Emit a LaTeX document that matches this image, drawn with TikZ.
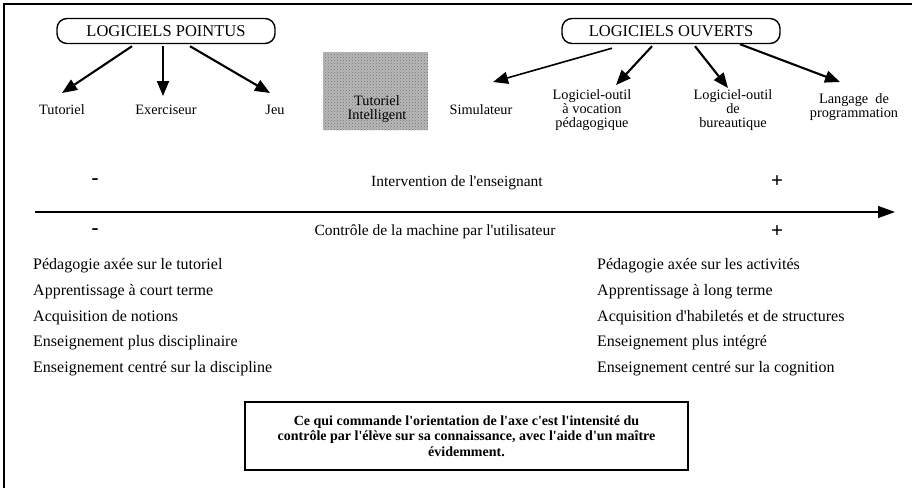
\documentclass[tikz,border=0pt]{standalone}
\usepackage{fontspec}
\setmainfont{Liberation Serif}
\usetikzlibrary{arrows.meta,calc,patterns}
\newcommand{\apos}{\textquotesingle}
\begin{document}
\begin{tikzpicture}[x=1pt,y=-1pt,
  cat/.style={draw,line width=1.4pt,rounded corners=10pt,minimum width=218pt,minimum height=25pt,inner sep=0pt,font=\fontsize{16.5}{16.5}\selectfont},
  lab/.style={font=\fontsize{14.3}{14}\selectfont,align=center,inner sep=0pt},
  txt/.style={font=\fontsize{16}{16}\selectfont,inner sep=0pt,anchor=west},
  mid/.style={font=\fontsize{15.5}{16}\selectfont,inner sep=0pt},
  sign/.style={font=\bfseries\fontsize{21}{21}\selectfont,inner sep=0pt},
  arr/.style={line width=2.1pt,-{Triangle[length=15pt,width=12pt]}},
  notebox/.style={draw,line width=1.5pt,minimum width=443pt,minimum height=68pt,inner sep=0pt,align=center,font=\bfseries\fontsize{14}{15.5}\selectfont},
  gray box/.style={preaction={fill=black!28},pattern=crosshatch dots,pattern color=black!55,minimum width=105pt,minimum height=78pt,inner sep=0pt}
]
\useasboundingbox (0,0) rectangle (912,488);
\fill[white] (0,0) rectangle (912,488);
\draw[line width=2.5pt] (4,488) -- (4,4) -- (912,4);

% category boxes
\node[cat] (pointus) at (166,31) {LOGICIELS POINTUS};
\node[cat] (ouverts) at (671,31) {LOGICIELS OUVERTS};

% labels
\node[lab] (tut) at (62,110) {Tutoriel};
\node[lab] (exe) at (166,110) {Exerciseur};
\node[lab] (jeu) at (275,110) {Jeu};
\node[gray box] (tibox) at (375.5,91) {};
\node[lab] (titxt) at (377,109.5) {Tutoriel\\Intelligent};
\node[lab] (sim) at (481,110) {Simulateur};
\node[lab] (voc) at (592,110) {Logiciel-outil\\à vocation\\pédagogique};
\node[lab] (bur) at (733,110) {Logiciel-outil\\de\\bureautique};
\node[lab] (lang) at (854,107) {Langage \ de\\programmation};

% arrows
\draw[arr] ($(pointus.south)+(-34,2)$) -- ($(tut.center)+(0,-17)$);
\draw[arr] ($(pointus.south)+(-3,2)$) -- ($(exe.center)+(-3,-14)$);
\draw[arr] ($(pointus.south)+(24,2)$) -- ($(jeu.center)+(-5,-17)$);
\draw[arr,line width=1.6pt] ($(ouverts.south)+(-59,4)$) -- ($(sim.center)+(12,-28)$);
\draw[arr] ($(ouverts.south)+(-19,2)$) -- ($(voc.center)+(24,-25)$);
\draw[arr] ($(ouverts.south)+(24,2)$) -- ($(bur.center)+(-5,-22)$);
\draw[arr] ($(ouverts.south)+(69,0)$) -- ($(lang.center)+(-14,-25)$);

% axis
\node[sign] (m1) at (95,182) {-};
\node[sign] (p1) at (777,182) {+};
\node[mid] (interv) at (457,183) {Intervention de l\apos enseignant};
\coordinate (axL) at (35,212);
\coordinate (axR) at (895,212);
\draw[line width=1.3pt,-{Triangle[length=17pt,width=12pt]}] (axL) -- (axR);
\node[sign] (m2) at (95,232) {-};
\node[sign] (p2) at (777,232) {+};
\node[mid] (ctrl) at (435,232) {Contrôle de la machine par l\apos utilisateur};

% lists
\node[txt] (l1) at (33,266) {Pédagogie axée sur le tutoriel};
\node[txt] (l2) at (33,292) {Apprentissage à court terme};
\node[txt] (l3) at (33,318) {Acquisition de notions};
\node[txt] (l4) at (33,343) {Enseignement plus disciplinaire};
\node[txt] (l5) at (33,369) {Enseignement centré sur la discipline};
\node[txt] (r1) at (597,266) {Pédagogie axée sur les activités};
\node[txt] (r2) at (597,292) {Apprentissage à long terme};
\node[txt] (r3) at (597,318) {Acquisition d\apos habiletés et de structures};
\node[txt] (r4) at (597,343) {Enseignement plus intégré};
\node[txt] (r5) at (597,369) {Enseignement centré sur la cognition};

% note
\node[notebox] (note) at (466.5,436) {Ce qui commande l\apos orientation de l\apos axe c\apos est l\apos intensité du\\contrôle par l\apos élève sur sa connaissance, avec l\apos aide d\apos un maître\\évidemment.};
\end{tikzpicture}
\end{document}
